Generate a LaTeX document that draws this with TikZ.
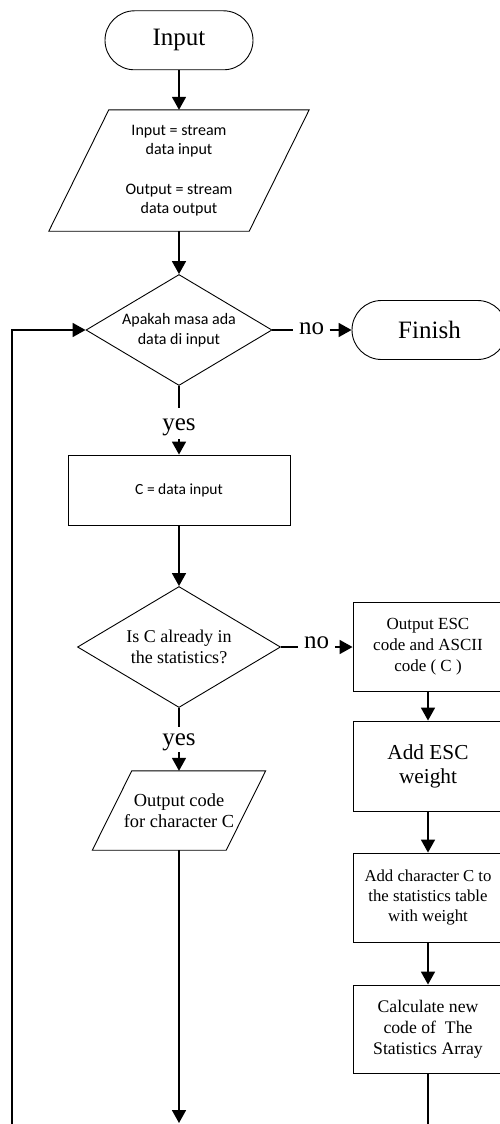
\documentclass[tikz,border=0pt]{standalone}
\usepackage{fontspec}
\setmainfont{Liberation Serif}
\newfontfamily\calibri{Carlito}
\usetikzlibrary{shapes.geometric,shapes.misc,arrows.meta,calc}
\begin{document}
\begin{tikzpicture}[x=1pt,y=-1pt,
  shp/.style={draw=black,line width=0.9pt,inner sep=0pt,align=center},
  term/.style={shp,rounded rectangle,font=\fontsize{25}{28}\selectfont},
  proc/.style={shp,rectangle},
  dec/.style={shp,diamond},
  conn/.style={line width=1.8pt,-{Triangle[width=14pt,length=13pt]}},
  plain/.style={line width=1.8pt},
  lbl/.style={inner sep=0pt,font=\fontsize{25}{28}\selectfont},
  txt/.style={inner sep=0pt,align=center}
]
\useasboundingbox (0,0) rectangle (499,1124);

% left column
\node[term, minimum width=148pt, minimum height=59pt] (inp) at (179,40.3) {Input};

\node[txt, minimum width=200pt, minimum height=121pt,
      font=\calibri\fontsize{16}{19.5}\selectfont] (io1) at (179,170.5)
      {Input = stream\\data input\\[20pt]Output = stream\\data output};
\draw[shp] ($(io1.north west)+(30,0)$) -- ($(io1.north east)+(30,0)$)
   -- ($(io1.south east)+(-30,0)$) -- ($(io1.south west)+(-30,0)$) -- cycle;

\node[dec, aspect=1.68, minimum width=186pt, minimum height=111pt,
      font=\calibri\fontsize{16}{20}\selectfont] (d1) at (179,330)
      {Apakah masa ada\\data di input};

\node[term, minimum width=155pt, minimum height=59pt] (fin) at (429.5,330) {Finish};
\node[lbl, inner xsep=5.5pt, anchor=base] (no1) at (311.5,334) {no};

\node[lbl, anchor=base, text height=22pt, text depth=9pt] (yes1) at (179,430) {yes};

\node[proc, minimum width=222pt, minimum height=70pt,
      font=\calibri\fontsize{15.5}{19}\selectfont] (r1) at (179,490) {C = data input};

\node[dec, aspect=1.68, minimum width=203pt, minimum height=121pt,
      font=\fontsize{18}{21}\selectfont] (d2) at (179,647)
      {Is C already in\\the statistics?};

\node[lbl, inner xsep=5.7pt, anchor=base] (no2) at (316.5,648) {no};

\node[lbl, anchor=base, text height=18pt, text depth=7pt] (yes2) at (179,745) {yes};

\node[txt, minimum width=133.5pt, minimum height=79pt,
      font=\fontsize{18.4}{21}\selectfont] (io2) at (179,810.5)
      {Output code\\for character C};
\draw[shp] ($(io2.north west)+(19.75,0)$) -- ($(io2.north east)+(19.75,0)$)
   -- ($(io2.south east)+(-19.75,0)$) -- ($(io2.south west)+(-19.75,0)$) -- cycle;

% right column
\node[proc, minimum width=150pt, minimum height=89pt,
      font=\fontsize{17}{21}\selectfont] (b1) at (428,647)
      {Output ESC\\code and ASCII\\code ( C )};
\node[proc, minimum width=150pt, minimum height=90pt,
      font=\fontsize{21.3}{24}\selectfont] (b2) at (428,766)
      {Add ESC\\weight};
\node[proc, minimum width=150pt, minimum height=89pt,
      font=\fontsize{16.75}{20}\selectfont] (b3) at (428,897.5)
      {Add character C to\\the statistics table\\with weight};
\node[proc, minimum width=150pt, minimum height=88pt,
      font=\fontsize{17.7}{21}\selectfont] (b4) at (428,1029)
      {Calculate new\\code of\ \ The\\Statistics Array};

\coordinate (end1) at (179,1123);
\coordinate (end2) at (428,1124);
\coordinate (loopb) at (12,1124);

% connectors
\draw[conn] (inp.south) -- (io1.north);
\draw[conn] (io1.south) -- (d1.north);
\draw[plain] (d1.east) -- (d1.east -| no1.west);
\draw[conn] (d1.east -| no1.east) -- (fin.west);
\draw[plain] (d1.south) -- (yes1.north);
\draw[conn] (yes1.south) -- (r1.north);
\draw[conn] (r1.south) -- (d2.north);
\draw[plain] (d2.east) -- (d2.east -| no2.west);
\draw[conn] (d2.east -| no2.east) -- (b1.west);
\draw[plain] (d2.south) -- (yes2.north);
\draw[conn] (yes2.south) -- (io2.north);
\draw[conn] (io2.south) -- (end1);
\draw[conn] (b1.south) -- (b2.north);
\draw[conn] (b2.south) -- (b3.north);
\draw[conn] (b3.south) -- (b4.north);
\draw[plain] (b4.south) -- (end2);
\draw[conn] (loopb) |- (d1.west);
\end{tikzpicture}
\end{document}
